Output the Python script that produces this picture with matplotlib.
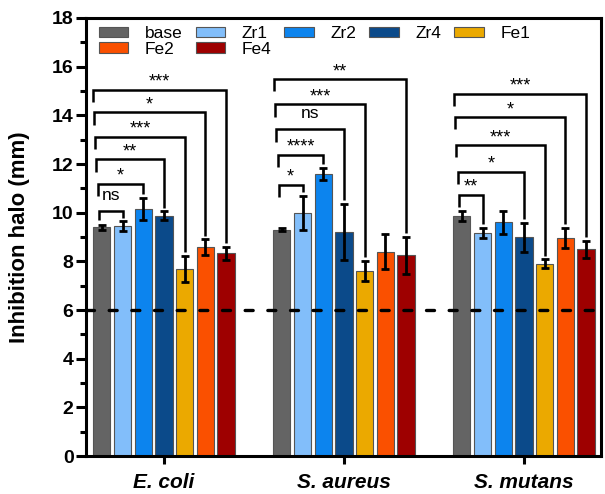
import numpy as np
import matplotlib.pyplot as plt
from matplotlib.ticker import MultipleLocator

plt.rcParams['font.family'] = ['Liberation Sans', 'DejaVu Sans']

BACTERIA = ['E. coli', 'S. aureus', 'S. mutans']
SAMPLES = ['base', 'Zr1', 'Zr2', 'Zr4', 'Fe1', 'Fe2', 'Fe4']
COLORS = ['#646464', '#82BEFA', '#0C84EE', '#0B4A8A', '#EBA900', '#FA5000', '#9E0000']

# mean inhibition halo (mm) and error, ordered as SAMPLES
HALO_ECOLI = [9.4, 9.45, 10.15, 9.88, 7.7, 8.58, 8.33]
ERR_ECOLI = [0.1, 0.2, 0.46, 0.17, 0.53, 0.33, 0.27]
HALO_SAUREUS = [9.3, 10.0, 11.6, 9.2, 7.6, 8.4, 8.25]
ERR_SAUREUS = [0.05, 0.7, 0.24, 1.16, 0.41, 0.71, 0.77]
HALO_SMUTANS = [9.85, 9.17, 9.6, 8.98, 7.9, 8.97, 8.5]
ERR_SMUTANS = [0.2, 0.2, 0.48, 0.6, 0.18, 0.42, 0.35]

# comparisons against base: (sample index, label, bracket height in mm)
SIG_ECOLI = [(1, 'ns', 10.08), (2, '*', 11.18), (3, '**', 12.19),
             (4, '***', 13.12), (5, '*', 14.12), (6, '***', 15.04)]
SIG_SAUREUS = [(1, '*', 11.15), (2, '****', 12.38), (3, 'ns', 13.42),
               (4, '***', 14.45), (6, '**', 15.48)]
SIG_SMUTANS = [(1, '**', 10.73), (3, '*', 11.69), (4, '***', 12.77),
               (5, '*', 13.92), (6, '***', 14.89)]

THRESHOLD = 6

means = np.array([HALO_ECOLI, HALO_SAUREUS, HALO_SMUTANS])
errs = np.array([ERR_ECOLI, ERR_SAUREUS, ERR_SMUTANS])
sigs = [SIG_ECOLI, SIG_SAUREUS, SIG_SMUTANS]

fig = plt.figure(figsize=(6.05, 4.94), dpi=100)
ax = fig.add_axes([86 / 605, 38 / 494, 515 / 605, 438 / 494])

pitch = 0.115
width = 0.096
groups = np.arange(len(BACTERIA))
px = 1 / 180  # one pixel in x data units

for j, (name, col) in enumerate(zip(SAMPLES, COLORS)):
    ax.bar(groups + (j - 3) * pitch, means[:, j], width, color=col,
           edgecolor='#555555', linewidth=0.8, label=name, zorder=2)
    ax.errorbar(groups + (j - 3) * pitch, means[:, j], yerr=errs[:, j],
                fmt='none', ecolor='black', elinewidth=2, capsize=2.8,
                capthick=2, zorder=4)

ax.axhline(THRESHOLD, color='black', lw=2.4, linestyle=(0, (2.4, 4.4)),
           dash_capstyle='round', zorder=3)

# significance brackets
for g, comps in enumerate(sigs):
    base_x = g - 3 * pitch
    base_top = means[g, 0] + errs[g, 0]
    for i, (k, lab, h) in enumerate(comps):
        x0 = base_x - (3 + 1.2 * i) * px
        x1 = g + (k - 3) * pitch
        y_end = means[g, k] + errs[g, k] + 0.15
        left_len = min(0.5, h - base_top - 0.2)
        ax.plot([x0, x0, x1, x1], [h - left_len, h, h, y_end], color='black',
                lw=1.8, solid_joinstyle='miter', solid_capstyle='butt', zorder=5)
        if lab == 'ns':
            ax.text((x0 + x1) / 2, h + 0.45, lab, ha='center', va='baseline',
                    fontsize=12.5)
        else:
            ax.text((x0 + x1) / 2, h + 0.13, lab, ha='center', va='baseline',
                    fontsize=13)

ax.set_xlim(-0.433, 2.428)
ax.set_ylim(0, 18)
ax.set_xticks(groups)
ax.set_xticklabels(BACTERIA, fontsize=15, fontweight='bold', fontstyle='italic')
ax.yaxis.set_major_locator(MultipleLocator(2))
ax.yaxis.set_minor_locator(MultipleLocator(1))
ax.tick_params(axis='y', which='major', length=7, width=2.2, labelsize=14, pad=2)
ax.tick_params(axis='y', which='minor', length=4, width=2.2)
ax.tick_params(axis='x', length=6, width=2.2, pad=6)
for lbl in ax.get_yticklabels():
    lbl.set_fontweight('bold')
for sp in ax.spines.values():
    sp.set_linewidth(2.2)

ax.set_ylabel('Inhibition halo (mm)', fontsize=16, fontweight='bold')
ax.yaxis.set_label_coords(-0.108, 0.5)

# legend laid out row by row: base Zr1 Zr2 Zr4 Fe1 / Fe2 Fe4
h, l = ax.get_legend_handles_labels()
order = [0, 5, 1, 6, 2, 3, 4]
ax.legend([h[i] for i in order], [l[i] for i in order], ncol=5,
          loc='upper left', bbox_to_anchor=(0.025, 0.982), frameon=False,
          fontsize=12.5, handlelength=1.7, handleheight=0.55,
          handletextpad=0.95, columnspacing=0.75, labelspacing=0.05,
          borderpad=0, borderaxespad=0)

fig.savefig('out.png', dpi=100)
